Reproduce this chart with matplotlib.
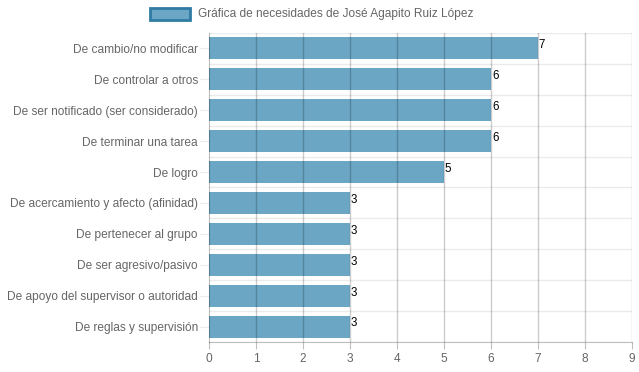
import matplotlib
matplotlib.use("Agg")
import matplotlib.pyplot as plt
import numpy as np

plt.rcParams['font.family'] = ['Liberation Sans', 'DejaVu Sans']

# datos de la gráfica
categorias = [
    "De cambio/no modificar",
    "De controlar a otros",
    "De ser notificado (ser considerado)",
    "De terminar una tarea",
    "De logro",
    "De acercamiento y afecto (afinidad)",
    "De pertenecer al grupo",
    "De ser agresivo/pasivo",
    "De apoyo del supervisor o autoridad",
    "De reglas y supervisión",
]
valores = [7, 6, 6, 6, 5, 3, 3, 3, 3, 3]
serie = "Gráfica de necesidades de José Agapito Ruiz López"
ticks_x = list(range(0, 10))

color_barra = "#6ba6c5"
color_borde = "#2f7ba3"
gris = "#666666"

fig = plt.figure(figsize=(6.39, 3.72), dpi=100)
ax = fig.add_axes([209 / 639, 30 / 372, 423 / 639, 309 / 372])

n = len(categorias)
pos = np.arange(n)
ax.barh(pos, valores, height=0.71, color=color_barra, zorder=2)

# etiquetas de valor
for p, v in zip(pos, valores):
    ax.text(v + 0.02, p - 0.1, str(v), fontsize=8.3, color="black",
            ha="left", va="center", zorder=4)

ax.set_xlim(0, 9)
ax.set_ylim(n - 0.5, -0.5)
ax.set_xticks(ticks_x)
ax.set_yticks(pos)
ax.set_yticklabels(categorias)

# rejilla
for x in ticks_x[1:]:
    ax.axvline(x, color=(0, 0, 0, 0.2), lw=1, zorder=3)
for y in np.arange(-0.5, n, 1.0):
    ax.axhline(y, color="#ebebeb", lw=1, zorder=1)

for s in ["top", "right"]:
    ax.spines[s].set_visible(False)
ax.spines["left"].set_color((0, 0, 0, 0.25))
ax.spines["bottom"].set_color((0, 0, 0, 0.25))
ax.spines["left"].set_zorder(3)

ax.tick_params(axis="x", colors=(0, 0, 0, 0.25), length=5, labelcolor=gris,
               labelsize=8.6, pad=3)
ax.tick_params(axis="y", colors="#ebebeb", length=6.5, labelcolor=gris,
               labelsize=8.6, pad=1.5)

# leyenda
fig.patches.append(plt.Rectangle((150 / 639, 1 - 20 / 372), 40 / 639, 12 / 372,
                                 transform=fig.transFigure, facecolor=color_barra,
                                 edgecolor=color_borde, lw=2))
fig.text(198 / 639, 1 - 14 / 372, serie, fontsize=8.6, color=gris,
         ha="left", va="center")

fig.savefig("out.png", dpi=100)
